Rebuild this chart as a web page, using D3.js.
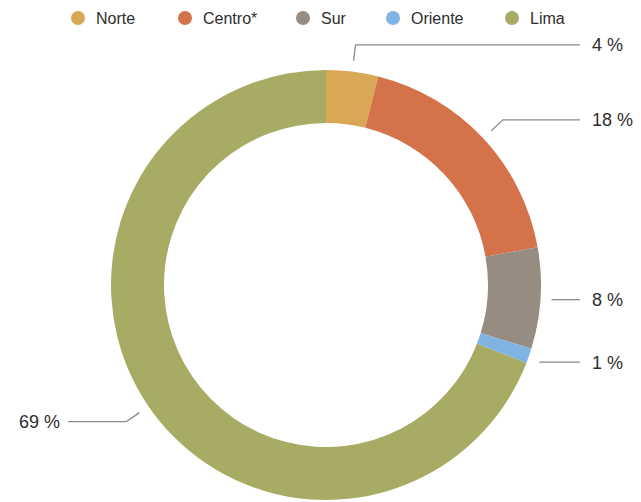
<!DOCTYPE html>
<html>
<head>
<meta charset="UTF-8">
<title>Donut</title>
<script src="https://d3js.org/d3.v7.min.js"></script>
<style>
  body { margin: 0; background: #fff; }
  text { font-family: "Liberation Sans", Arial, Helvetica, sans-serif; fill: #2e2e2e; }
</style>
</head>
<body>
<div id="chart"></div>
<script>
(function (d3) {
  var regions = ['Norte', 'Centro*', 'Sur', 'Oriente', 'Lima'];
  var shares = [3.9, 18.3, 7.6, 1.1, 69.1];
  var labels = ['4 %', '18 %', '8 %', '1 %', '69 %'];
  var colors = ['#d8a857', '#d4724a', '#978c82', '#7fb3e2', '#a8ab63'];
  var legendX = [78, 185, 303, 393, 512];

  var width = 641, height = 502;
  var cx = 326, cy = 285, outer = 215, inner = 162;

  var svg = d3.select('#chart').append('svg')
    .attr('width', width)
    .attr('height', height);

  var data = regions.map(function (r, i) {
    return { region: r, value: shares[i], label: labels[i], color: colors[i] };
  });

  var pie = d3.pie().value(function (d) { return d.value; }).sort(null);
  var arc = d3.arc().innerRadius(inner).outerRadius(outer);

  var g = svg.append('g').attr('transform', 'translate(' + cx + ',' + cy + ')');
  var arcs = pie(data);

  g.selectAll('path.slice')
    .data(arcs)
    .enter().append('path')
    .attr('class', 'slice')
    .attr('d', arc)
    .attr('fill', function (d) { return d.data.color; });

  // leader lines + labels
  function pt(a, r) { return [r * Math.sin(a), -r * Math.cos(a)]; }
  arcs.forEach(function (d) {
    var mid = (d.startAngle + d.endAngle) / 2;
    var p1 = pt(mid, 226), p2 = pt(mid, 242);
    var right = p2[0] > 0;
    var endX = right ? 580 - cx : 68 - cx;
    var pts;
    if (Math.abs(p2[1] - p1[1]) < 8) {
      // almost horizontal: straight line
      var y = (p1[1] + p2[1]) / 2;
      p2 = [p1[0], y];
      pts = [[p1[0], y], [endX, y]];
    } else {
      pts = [p1, p2, [endX, p2[1]]];
    }
    g.append('path')
      .attr('d', d3.line()(pts))
      .attr('fill', 'none')
      .attr('stroke', '#8a8a8a')
      .attr('stroke-width', 1.3);
    g.append('text')
      .attr('x', right ? 592 - cx : 60 - cx)
      .attr('y', p2[1])
      .attr('dy', '0.36em')
      .attr('text-anchor', right ? 'start' : 'end')
      .style('font-size', '18px')
      .text(d.data.label);
  });

  // legend
  var leg = svg.selectAll('g.leg')
    .data(data)
    .enter().append('g')
    .attr('class', 'leg')
    .attr('transform', function (d, i) { return 'translate(' + legendX[i] + ',18)'; });
  leg.append('circle').attr('r', 7).attr('fill', function (d) { return d.color; });
  leg.append('text')
    .attr('x', 18)
    .attr('dy', '0.36em')
    .style('font-size', '16px')
    .text(function (d) { return d.region; });
})(window.d3);
</script>
</body>
</html>
